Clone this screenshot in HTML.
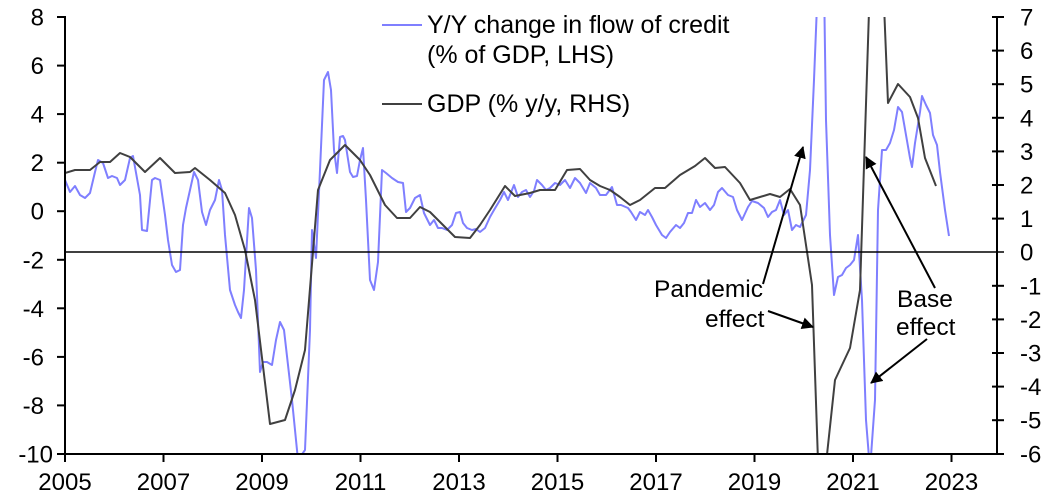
<!DOCTYPE html>
<html><head><meta charset="utf-8"><style>body{margin:0;background:#fff}svg{display:block;font-family:"Liberation Sans",Arial,sans-serif}</style></head><body>
<svg width="1048" height="498" viewBox="0 0 1048 498">
<defs><clipPath id="c"><rect x="65" y="17" width="933" height="437"/></clipPath>
<marker id="ah" markerWidth="12" markerHeight="12" refX="11" refY="6" orient="auto" markerUnits="userSpaceOnUse"><path d="M0,0 L12,6 L0,12 z" fill="#000"/></marker></defs>
<g clip-path="url(#c)" fill="none" stroke-width="2" stroke-linejoin="round">
<polyline stroke="#7f7fff" points="65,180 70,192 75,186 80,195 85,198 90,193 95,172 98,160 103,163 108,178 112,176 117,178 120,185 125,180 130,158 133,156 140,195 142,230 147,231 152,180 155,178 160,180 165,215 168,240 172,265 176,272 180,270 183,225 186,208 190,190 194,172 198,180 202,212 206,225 210,210 215,200 219,180 222,190 225,235 230,290 235,305 238,312 241,318 244,290 249,208 252,218 256,270 260,372 263,362 267,362 272,365 276,340 280,322 284,330 288,365 292,400 298,460 305,450 310,330 312,230 316,258 320,170 324,80 328,72 331,90 334,150 337,173 340,137 343,136 345,140 350,172 353,177 357,176 360,160 363,148 366,200 370,280 374,290 378,262 382,170 386,173 392,178 398,182 403,183 406,212 410,208 415,198 420,195 424,213 430,225 434,220 438,228 442,228 447,230 452,225 456,213 460,212 463,223 467,228 472,230 476,229 480,232 485,228 490,217 494,210 500,200 504,192 508,200 514,185 518,197 522,192 526,190 530,197 534,191 537,180 542,185 546,190 550,188 555,183 560,185 565,180 570,188 575,178 580,183 586,193 590,183 596,188 600,195 606,195 612,187 617,205 621,205 628,208 631,212 636,220 640,212 645,215 648,210 652,217 656,225 662,235 666,238 670,232 676,225 680,228 684,223 688,213 692,213 696,200 700,207 705,203 710,210 714,205 718,192 722,188 728,195 733,197 737,210 742,220 748,207 752,201 758,203 764,208 768,217 772,212 776,210 780,200 784,215 788,210 792,230 796,225 800,227 806,215 810,170 814,80 818,-20 824,-20 826,120 830,235 834,295 838,277 842,275 846,268 850,265 854,260 858,235 862,300 866,420 870,470 875,400 878,210 882,150 886,150 890,143 894,130 898,107 902,112 906,135 910,158 912,167 915,143 920,112 922,96 926,105 930,113 933,135 937,145 940,172 945,210 949,236"/>
<polyline stroke="#404040" points="65,173 75,170 90,170 100,162 110,162 120,153 130,157 145,172 160,158 175,173 190,172 195,168 210,180 225,193 235,215 245,250 255,300 270,424 285,420 295,390 305,350 318,190 330,160 345,145 360,160 370,175 385,205 397,218 410,218 420,207 430,212 440,222 455,237 470,238 480,225 490,210 505,186 515,196 530,193 540,190 555,190 567,170 580,169 590,180 600,186 610,190 620,197 630,205 640,200 655,188 665,188 680,175 695,166 705,158 715,168 725,167 740,183 750,200 760,197 770,194 780,197 790,189 800,205 812,285 820,520 835,380 850,348 860,290 870,-20 883,-20 888,103 898,84 910,97 918,118 925,158 936,186"/>
</g>
<g stroke="#000" stroke-width="2" fill="none">
<line x1="65" y1="16" x2="65" y2="455"/>
<line x1="57" y1="454" x2="998" y2="454"/>
<line x1="997" y1="16" x2="997" y2="455"/>
<line x1="65" y1="252" x2="1004" y2="252" stroke-width="1.5"/>
</g>
<g stroke="#000" stroke-width="2">
<line x1="57" x2="65" y1="17" y2="17"/><line x1="57" x2="65" y1="65.6" y2="65.6"/><line x1="57" x2="65" y1="114.1" y2="114.1"/><line x1="57" x2="65" y1="162.7" y2="162.7"/><line x1="57" x2="65" y1="211.2" y2="211.2"/><line x1="57" x2="65" y1="259.8" y2="259.8"/><line x1="57" x2="65" y1="308.3" y2="308.3"/><line x1="57" x2="65" y1="356.9" y2="356.9"/><line x1="57" x2="65" y1="405.4" y2="405.4"/>
<line x1="992" x2="1004" y1="17" y2="17"/><line x1="992" x2="1004" y1="50.6" y2="50.6"/><line x1="992" x2="1004" y1="84.2" y2="84.2"/><line x1="992" x2="1004" y1="117.8" y2="117.8"/><line x1="992" x2="1004" y1="151.4" y2="151.4"/><line x1="992" x2="1004" y1="185" y2="185"/><line x1="992" x2="1004" y1="218.6" y2="218.6"/><line x1="992" x2="1004" y1="285.8" y2="285.8"/><line x1="992" x2="1004" y1="319.4" y2="319.4"/><line x1="992" x2="1004" y1="353" y2="353"/><line x1="992" x2="1004" y1="386.6" y2="386.6"/><line x1="992" x2="1004" y1="420.2" y2="420.2"/><line x1="992" x2="1004" y1="454" y2="454"/>
<line y1="454" y2="462" x1="65" x2="65"/><line y1="454" y2="462" x1="163.5" x2="163.5"/><line y1="454" y2="462" x1="262" x2="262"/><line y1="454" y2="462" x1="360.5" x2="360.5"/><line y1="454" y2="462" x1="459" x2="459"/><line y1="454" y2="462" x1="557.5" x2="557.5"/><line y1="454" y2="462" x1="656" x2="656"/><line y1="454" y2="462" x1="754.5" x2="754.5"/><line y1="454" y2="462" x1="853" x2="853"/><line y1="454" y2="462" x1="951.5" x2="951.5"/>
</g>
<g font-size="24" fill="#000" text-anchor="end">
<text x="44" y="25.5">8</text><text x="44" y="74">6</text><text x="44" y="122.6">4</text><text x="44" y="171.2">2</text><text x="44" y="219.7">0</text><text x="44" y="268.3">-2</text><text x="44" y="316.8">-4</text><text x="44" y="365.4">-6</text><text x="44" y="413.9">-8</text><text x="53" y="462.5">-10</text>
</g>
<g font-size="24" fill="#000" text-anchor="start">
<text x="1020" y="25.5">7</text><text x="1020" y="59.1">6</text><text x="1020" y="92.7">5</text><text x="1020" y="126.3">4</text><text x="1020" y="159.9">3</text><text x="1020" y="193.5">2</text><text x="1020" y="227.1">1</text><text x="1020" y="260.7">0</text><text x="1020" y="294.3">-1</text><text x="1020" y="327.9">-2</text><text x="1020" y="361.5">-3</text><text x="1020" y="395.1">-4</text><text x="1020" y="428.7">-5</text><text x="1020" y="462.5">-6</text>
</g>
<g font-size="24" fill="#000" text-anchor="middle">
<text x="65" y="490">2005</text><text x="163.5" y="490">2007</text><text x="262" y="490">2009</text><text x="360.5" y="490">2011</text><text x="459" y="490">2013</text><text x="557.5" y="490">2015</text><text x="656" y="490">2017</text><text x="754.5" y="490">2019</text><text x="853" y="490">2021</text><text x="951.5" y="490">2023</text>
</g>
<line x1="382" y1="25" x2="422" y2="25" stroke="#7f7fff" stroke-width="2"/>
<text x="427" y="33" font-size="25">Y/Y change in flow of credit</text>
<text x="427" y="63" font-size="25">(% of GDP, LHS)</text>
<line x1="382" y1="104" x2="422" y2="104" stroke="#404040" stroke-width="2"/>
<text x="427" y="112" font-size="25">GDP (% y/y, RHS)</text>
<g font-size="24.5">
<text x="654" y="297">Pandemic</text><text x="705" y="327">effect</text>
<text x="897" y="307">Base</text><text x="896" y="335">effect</text>
</g>
<g stroke="#000" stroke-width="2" marker-end="url(#ah)">
<line x1="763" y1="284" x2="803" y2="147"/>
<line x1="768" y1="311" x2="813" y2="327"/>
<line x1="935" y1="288" x2="866" y2="157"/>
<line x1="927" y1="339" x2="871" y2="383"/>
</g>
</svg>
</body></html>
